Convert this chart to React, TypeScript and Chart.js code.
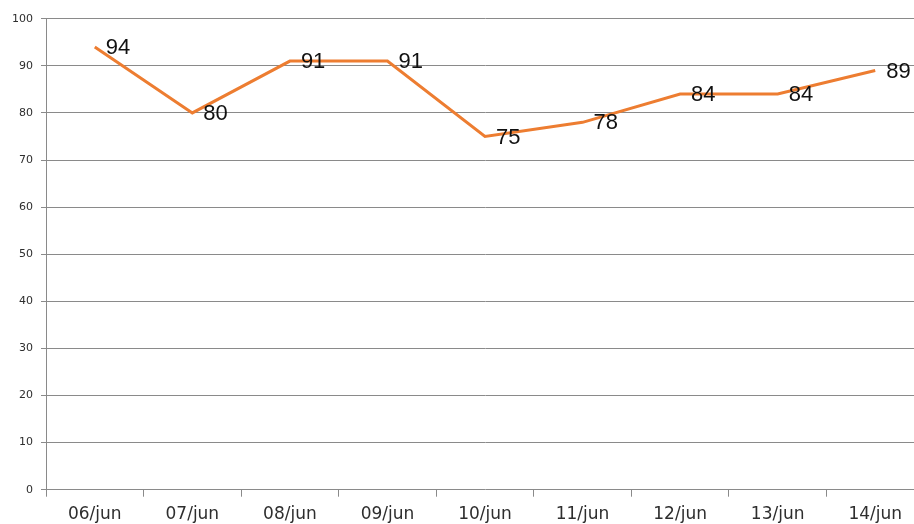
import React, { useEffect, useRef } from "react";
import { Chart, registerables } from "chart.js";

Chart.register(...registerables);

const categories = ["06/jun", "07/jun", "08/jun", "09/jun", "10/jun", "11/jun", "12/jun", "13/jun", "14/jun"];
const values = [94, 80, 91, 91, 75, 78, 84, 84, 89];
const yMin = 0;
const yMax = 100;
const yStep = 10;

const dataLabelPlugin = {
  id: "dataLabels",
  afterDatasetsDraw(chart: any) {
    const ctx = chart.ctx;
    const meta = chart.getDatasetMeta(0);
    ctx.save();
    ctx.font = '22px "Liberation Sans", Arial, sans-serif';
    ctx.fillStyle = "#111111";
    ctx.textAlign = "left";
    ctx.textBaseline = "middle";
    meta.data.forEach((pt: any, i: number) => {
      ctx.fillText(String(values[i]), pt.x + 11, pt.y + 1);
    });
    ctx.restore();
  },
};

export default function App() {
  const ref = useRef<HTMLCanvasElement | null>(null);
  useEffect(() => {
    if (!ref.current) return;
    const chart = new Chart(ref.current, {
      type: "line",
      data: {
        labels: categories,
        datasets: [
          {
            data: values,
            borderColor: "#ED7D31",
            borderWidth: 3,
            pointRadius: 0,
            tension: 0,
            fill: false,
          },
        ],
      },
      options: {
        animation: false,
        responsive: false,
        devicePixelRatio: 1,
        layout: { padding: { top: 18.7, left: 0, right: 0, bottom: 0 } },
        plugins: { legend: { display: false }, tooltip: { enabled: false } },
        scales: {
          x: {
            type: "category",
            offset: true,
            grid: {
              offset: true,
              drawOnChartArea: false,
              drawTicks: true,
              tickLength: 7,
              color: "#8a8a8a",
              lineWidth: 1,
            },
            border: { display: false },
            ticks: {
              padding: 8,
              color: "#2e2e2e",
              font: { family: '"DejaVu Sans"', size: 17 },
              maxRotation: 0,
              autoSkip: false,
            },
            afterFit: (s: any) => {
              s.height = 34.3;
            },
          },
          y: {
            min: yMin,
            max: yMax,
            grid: {
              color: "#8a8a8a",
              lineWidth: 1,
              drawTicks: true,
              tickLength: 5,
            },
            border: { display: true, color: "#8a8a8a", width: 1 },
            ticks: {
              stepSize: yStep,
              padding: 8,
              color: "#2e2e2e",
              font: { family: '"DejaVu Sans"', size: 11 },
            },
            afterFit: (s: any) => {
              s.width = 46;
            },
          },
        },
      },
      plugins: [dataLabelPlugin],
    });
    return () => chart.destroy();
  }, []);
  return (
    <div
      style={{
        position: "fixed",
        left: 0,
        top: 0,
        width: 914,
        height: 524,
        overflow: "hidden",
        background: "#fff",
      }}
    >
      <canvas ref={ref} width={924} height={524} style={{ display: "block", width: 924, height: 524 }} />
    </div>
  );
}
